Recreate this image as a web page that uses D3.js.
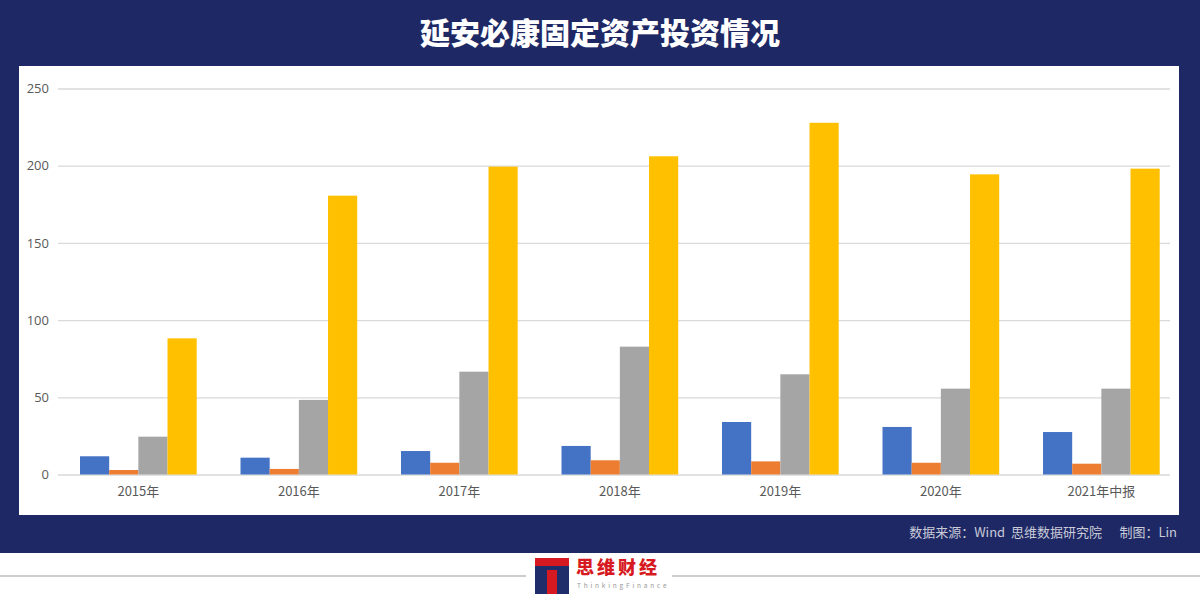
<!DOCTYPE html>
<html>
<head>
<meta charset="utf-8">
<script src="https://cdn.jsdelivr.net/npm/d3@7"></script>
<style>
  body { margin: 0; background: #fff; }
  text { font-family: "Noto Sans CJK SC", "Noto Sans", sans-serif; }
</style>
</head>
<body>
<div id="chart"></div>
<script>
// Data (unit not shown, likely 亿元)
const categories = ["2015年", "2016年", "2017年", "2018年", "2019年", "2020年", "2021年中报"];
const seriesBlue   = [11.8, 10.9, 15.2, 18.5, 34.0, 30.8, 27.5];
const seriesOrange = [2.9, 3.6, 7.6, 9.2, 8.5, 7.6, 7.0];
const seriesGray   = [24.5, 48.3, 66.6, 82.8, 64.9, 55.6, 55.6];
const seriesYellow = [88.2, 180.6, 199.4, 206.1, 227.8, 194.4, 198.1];
const yTicks = [0, 50, 100, 150, 200, 250];

const series = [seriesBlue, seriesOrange, seriesGray, seriesYellow];
const colors = ["#4472C4", "#ED7D31", "#A5A5A5", "#FFC000"];

const W = 1200, H = 594;
const navy = "#1e2865";

const svg = d3.select("#chart")
    .append("svg")
    .attr("width", W)
    .attr("height", H);

// background frame
svg.append("rect").attr("width", W).attr("height", 553).attr("fill", navy);
svg.append("rect")
    .attr("x", 19).attr("y", 66)
    .attr("width", 1160).attr("height", 449)
    .attr("fill", "#fff");

// title
svg.append("text")
    .attr("x", 600).attr("y", 44)
    .attr("text-anchor", "middle")
    .attr("fill", "#fff")
    .attr("font-size", 30)
    .attr("font-weight", 900)
    .text("延安必康固定资产投资情况");

// scales
const plot = {left: 58, right: 1170, top: 88.5, bottom: 474.5};

// band range runs a bit past the gridlines, as in the source chart
const x = d3.scaleBand()
    .domain(categories)
    .range([58.1, 1181.6])
    .paddingInner(0.273)
    .paddingOuter(0.1365);

const xSub = d3.scaleBand()
    .domain(d3.range(series.length))
    .range([0, x.bandwidth()]);

const y = d3.scaleLinear()
    .domain([0, 250])
    .range([plot.bottom, plot.top]);

// gridlines + y labels
const yAxis = svg.append("g")
    .attr("transform", `translate(${plot.left},0)`)
    .call(d3.axisLeft(y).tickValues(yTicks).tickSize(-(plot.right - plot.left)).tickPadding(9));
yAxis.select(".domain").remove();
yAxis.selectAll(".tick line").attr("stroke", "#d9d9d9").attr("stroke-width", 1.3);
yAxis.selectAll(".tick text")
    .attr("fill", "#595959")
    .attr("font-size", 13)
    .style("font-family", "'Open Sans', 'Noto Sans', sans-serif");

// bars
const groups = svg.selectAll(".grp")
    .data(categories)
    .join("g")
    .attr("class", "grp")
    .attr("transform", d => `translate(${x(d)},0)`);

groups.selectAll("rect")
    .data((d, i) => series.map((s, k) => ({k, v: s[i]})))
    .join("rect")
    .attr("x", d => xSub(d.k))
    .attr("width", xSub.bandwidth())
    .attr("y", d => y(d.v))
    .attr("height", d => y(0) - y(d.v))
    .attr("fill", d => colors[d.k]);

// x labels
const xAxis = svg.append("g")
    .attr("transform", `translate(0,${plot.bottom})`)
    .call(d3.axisBottom(x).tickSize(0).tickPadding(12));
xAxis.select(".domain").remove();
xAxis.selectAll(".tick text")
    .attr("fill", "#595959")
    .attr("font-size", 13);

// source line
svg.append("text")
    .attr("x", 1177).attr("y", 537)
    .attr("text-anchor", "end")
    .attr("fill", "#c9cbd8")
    .attr("font-size", 13)
    .attr("xml:space", "preserve")
    .text("数据来源：Wind  思维数据研究院      制图：Lin");

// bottom rule and logo
svg.append("line").attr("x1", 0).attr("x2", 526).attr("y1", 576).attr("y2", 576)
    .attr("stroke", "#bdbdbd").attr("stroke-width", 1.5);
svg.append("line").attr("x1", 672).attr("x2", W).attr("y1", 576).attr("y2", 576)
    .attr("stroke", "#bdbdbd").attr("stroke-width", 1.5);

const logo = svg.append("g");
logo.append("rect").attr("x", 535).attr("y", 558).attr("width", 34).attr("height", 36).attr("fill", "#1f2d6b");
logo.append("rect").attr("x", 535).attr("y", 558).attr("width", 34).attr("height", 8).attr("fill", "#d71a21");
logo.append("rect").attr("x", 547).attr("y", 570).attr("width", 10).attr("height", 24).attr("fill", "#d71a21");
logo.append("text")
    .attr("x", 576).attr("y", 574)
    .attr("fill", "#d71a21")
    .attr("font-size", 18)
    .attr("font-weight", 900)
    .attr("letter-spacing", 3)
    .text("思维财经");
logo.append("text")
    .attr("x", 577).attr("y", 588)
    .attr("fill", "#999")
    .attr("font-size", 6.5)
    .attr("letter-spacing", 2.8)
    .text("ThinkingFinance");
</script>
</body>
</html>
